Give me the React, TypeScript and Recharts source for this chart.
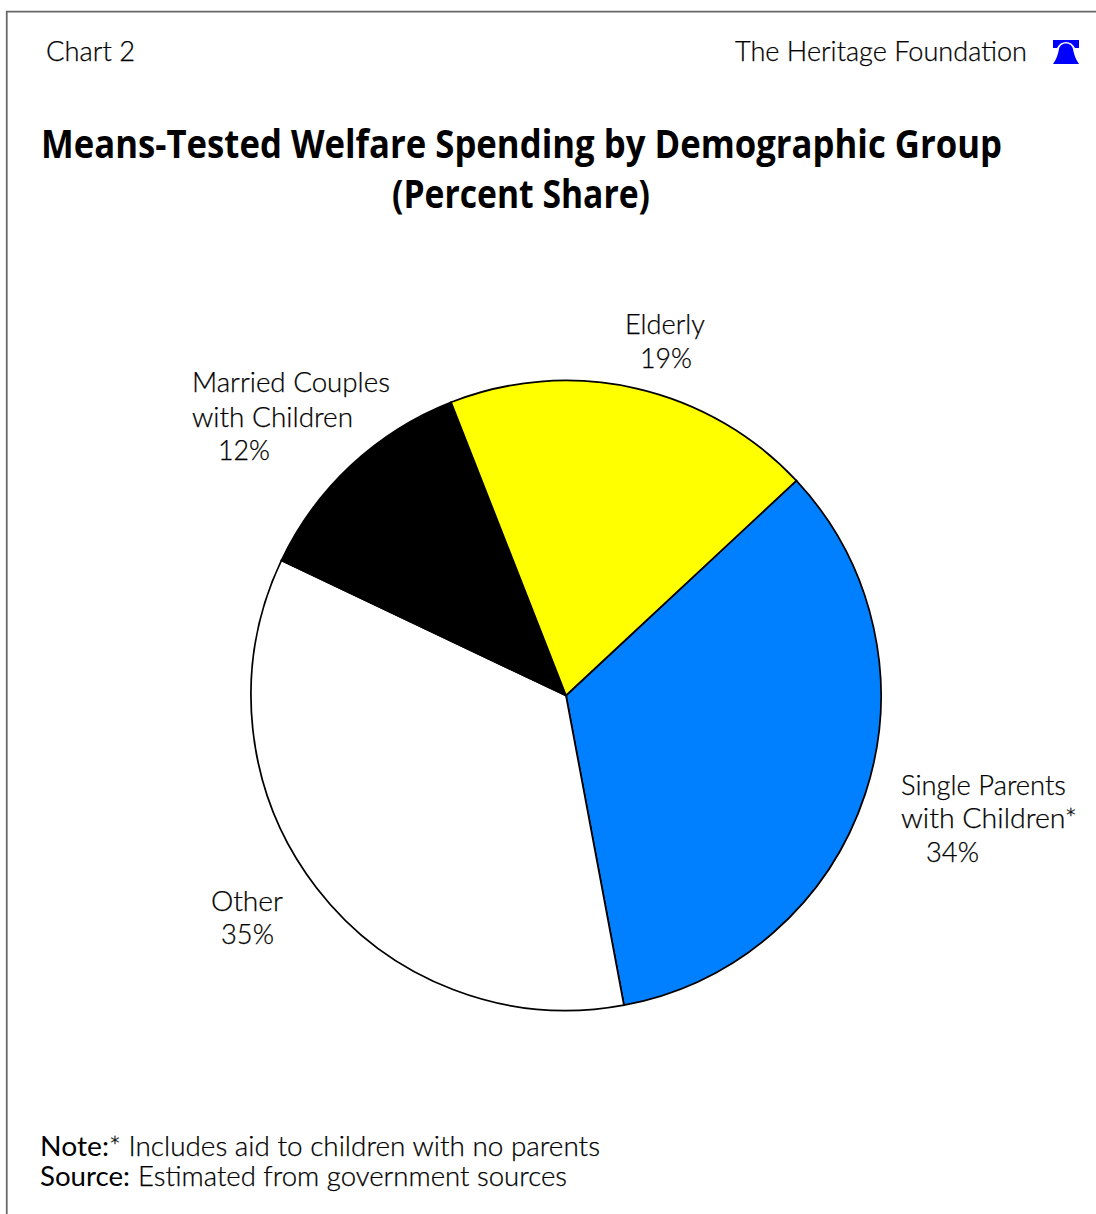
import React from "react";
import { PieChart, Pie, Cell } from "recharts";

const groups = ["Single Parents with Children", "Other", "Married Couples with Children", "Elderly"];
const shares = [34, 35, 12, 19];
const colors = ["#0080ff", "#ffffff", "#000000", "#ffff00"];

const pieData = groups.map((name, i) => ({ name, value: shares[i] }));

const bodyFont = "Lato, 'Open Sans', sans-serif";
const titleFont = "'Open Sans', 'Noto Sans', sans-serif";

type LabelProps = { x: number; y: number; w?: number; size?: number; weight?: number; outline?: number; children: string };

function Label({ x, y, w, size = 27, weight = 300, outline = 0.25, children }: LabelProps) {
  return (
    <text
      x={x}
      y={y}
      fontFamily={bodyFont}
      fontSize={size}
      fontWeight={weight}
      fill="#000"
      stroke="#000"
      strokeWidth={outline}
      textLength={w}
      lengthAdjust={w ? "spacingAndGlyphs" : undefined}
    >
      {children}
    </text>
  );
}

// Condensed bold heading line: a smaller face stretched vertically to the cap height used here.
function Heading({ x, y, w, children }: { x: number; y: number; w: number; children: string }) {
  return (
    <text
      transform={`translate(${x} ${y}) scale(1 1.18)`}
      fontFamily={titleFont}
      fontSize={34}
      fontWeight={700}
      fill="#000"
      textLength={w}
      lengthAdjust="spacingAndGlyphs"
    >
      {children}
    </text>
  );
}

export default function App() {
  return (
    <div style={{ position: "absolute", left: 0, top: 0, width: 1096, height: 1214, background: "#fff", overflow: "hidden" }}>
      <PieChart width={1096} height={1214} margin={{ top: 0, right: 0, bottom: 0, left: 0 }}>
        <Pie
          data={pieData}
          dataKey="value"
          nameKey="name"
          cx={566}
          cy={695.5}
          outerRadius={315}
          startAngle={43}
          endAngle={-317}
          stroke="#000"
          strokeWidth={1.75}
          isAnimationActive={false}
        >
          {pieData.map((d, i) => (
            <Cell key={d.name} fill={colors[i]} />
          ))}
        </Pie>
      </PieChart>

      <svg width={1096} height={1214} style={{ position: "absolute", left: 0, top: 0, pointerEvents: "none" }}>
        {/* frame: top and left rules only */}
        <path d="M6.75 1214 V11.5 H1096" fill="none" stroke="#666" strokeWidth={1.75} />

        <Label x={46} y={61} w={89}>Chart 2</Label>
        <Label x={735} y={61} w={292}>The Heritage Foundation</Label>

        {/* bell mark */}
        <path
          d="M1053 40 H1079 V48 L1075 48 C1073 44 1070 42 1066 42 C1062 42 1059 44 1057 48 L1053 48 Z"
          fill="#0000ff"
        />
        <path
          d="M1059 49 C1060 45 1063 43.5 1066 43.5 C1069 43.5 1072 45 1073 49 C1074 55 1076 60 1079 64 H1053 C1056 60 1058 55 1059 49 Z"
          fill="#0000ff"
        />

        <Heading x={41} y={158} w={961}>Means-Tested Welfare Spending by Demographic Group</Heading>
        <Heading x={392} y={208} w={258}>(Percent Share)</Heading>

        <Label x={625} y={334} w={80}>Elderly</Label>
        <Label x={640} y={368} w={52}>19%</Label>

        <Label x={192} y={392} w={198}>Married Couples</Label>
        <Label x={192} y={427} w={161}>with Children</Label>
        <Label x={218} y={460} w={52}>12%</Label>

        <Label x={901} y={795} w={165}>Single Parents</Label>
        <Label x={901} y={828} w={176}>with Children*</Label>
        <Label x={926} y={862} w={53}>34%</Label>

        <Label x={211} y={911} w={72}>Other</Label>
        <Label x={221} y={944} w={53}>35%</Label>

        <Label x={40} y={1156} w={69} weight={400} outline={0}>Note:</Label>
        <Label x={109} y={1156} w={491}>* Includes aid to children with no parents</Label>
        <Label x={40} y={1186} w={90} weight={400} outline={0}>Source:</Label>
        <Label x={138} y={1186} w={429}>Estimated from government sources</Label>
      </svg>
    </div>
  );
}
